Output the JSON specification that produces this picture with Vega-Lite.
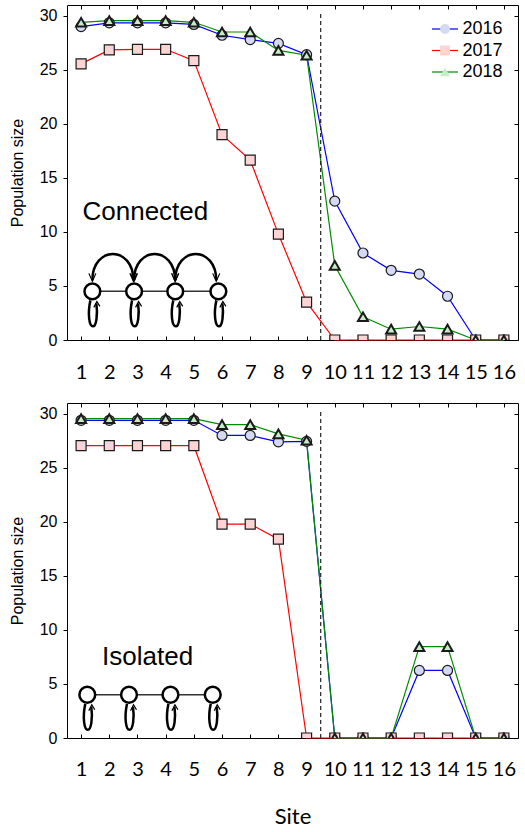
{
  "$schema": "https://vega.github.io/schema/vega-lite/v6.json",
  "padding": {"left": 9, "top": 4, "right": 3, "bottom": 3},
  "spacing": 20,
  "config": {
    "view": {"stroke": null},
    "font": "Liberation Sans",
    "axis": {"grid": false, "domainColor": "black", "tickColor": "black", "labelColor": "black", "titleColor": "black", "domainWidth": 1, "tickWidth": 1}
  },
  "datasets": {
    "pop": [
      {"p":"Connected","year":"2016","yr":"2016","site":1,"n":29.0},{"p":"Connected","year":"2016","yr":"2016","site":2,"n":29.35},{"p":"Connected","year":"2016","yr":"2016","site":3,"n":29.35},{"p":"Connected","year":"2016","yr":"2016","site":4,"n":29.35},{"p":"Connected","year":"2016","yr":"2016","site":5,"n":29.2},{"p":"Connected","year":"2016","yr":"2016","site":6,"n":28.2},{"p":"Connected","year":"2016","yr":"2016","site":7,"n":27.8},{"p":"Connected","year":"2016","yr":"2016","site":8,"n":27.45},{"p":"Connected","year":"2016","yr":"2016","site":9,"n":26.4},{"p":"Connected","year":"2016","yr":"2016","site":10,"n":12.85},{"p":"Connected","year":"2016","yr":"2016","site":11,"n":8.05},{"p":"Connected","year":"2016","yr":"2016","site":12,"n":6.45},{"p":"Connected","year":"2016","yr":"2016","site":13,"n":6.1},{"p":"Connected","year":"2016","yr":"2016","site":14,"n":4.05},{"p":"Connected","year":"2016","yr":"2016","site":15,"n":0},{"p":"Connected","year":"2016","yr":"2016","site":16,"n":0},
      {"p":"Connected","year":"2017","yr":"2017","site":1,"n":25.55},{"p":"Connected","year":"2017","yr":"2017","site":2,"n":26.85},{"p":"Connected","year":"2017","yr":"2017","site":3,"n":26.9},{"p":"Connected","year":"2017","yr":"2017","site":4,"n":26.9},{"p":"Connected","year":"2017","yr":"2017","site":5,"n":25.85},{"p":"Connected","year":"2017","yr":"2017","site":6,"n":19.0},{"p":"Connected","year":"2017","yr":"2017","site":7,"n":16.65},{"p":"Connected","year":"2017","yr":"2017","site":8,"n":9.8},{"p":"Connected","year":"2017","yr":"2017","site":9,"n":3.5},{"p":"Connected","year":"2017","yr":"2017","site":10,"n":0},{"p":"Connected","year":"2017","yr":"2017","site":11,"n":0},{"p":"Connected","year":"2017","yr":"2017","site":12,"n":0},{"p":"Connected","year":"2017","yr":"2017","site":13,"n":0},{"p":"Connected","year":"2017","yr":"2017","site":14,"n":0},{"p":"Connected","year":"2017","yr":"2017","site":15,"n":0},{"p":"Connected","year":"2017","yr":"2017","site":16,"n":0},
      {"p":"Connected","year":"2018","yr":"2018","site":1,"n":29.4},{"p":"Connected","year":"2018","yr":"2018","site":2,"n":29.55},{"p":"Connected","year":"2018","yr":"2018","site":3,"n":29.55},{"p":"Connected","year":"2018","yr":"2018","site":4,"n":29.55},{"p":"Connected","year":"2018","yr":"2018","site":5,"n":29.4},{"p":"Connected","year":"2018","yr":"2018","site":6,"n":28.5},{"p":"Connected","year":"2018","yr":"2018","site":7,"n":28.5},{"p":"Connected","year":"2018","yr":"2018","site":8,"n":26.8},{"p":"Connected","year":"2018","yr":"2018","site":9,"n":26.35},{"p":"Connected","year":"2018","yr":"2018","site":10,"n":6.9},{"p":"Connected","year":"2018","yr":"2018","site":11,"n":2.15},{"p":"Connected","year":"2018","yr":"2018","site":12,"n":1.0},{"p":"Connected","year":"2018","yr":"2018","site":13,"n":1.25},{"p":"Connected","year":"2018","yr":"2018","site":14,"n":1.0},{"p":"Connected","year":"2018","yr":"2018","site":15,"n":0},{"p":"Connected","year":"2018","yr":"2018","site":16,"n":0},
      {"p":"Isolated","year":"2016","yr":"2016","site":1,"n":29.4},{"p":"Isolated","year":"2016","yr":"2016","site":2,"n":29.4},{"p":"Isolated","year":"2016","yr":"2016","site":3,"n":29.4},{"p":"Isolated","year":"2016","yr":"2016","site":4,"n":29.4},{"p":"Isolated","year":"2016","yr":"2016","site":5,"n":29.4},{"p":"Isolated","year":"2016","yr":"2016","site":6,"n":28.0},{"p":"Isolated","year":"2016","yr":"2016","site":7,"n":28.0},{"p":"Isolated","year":"2016","yr":"2016","site":8,"n":27.4},{"p":"Isolated","year":"2016","yr":"2016","site":9,"n":27.45},{"p":"Isolated","year":"2016","yr":"2016","site":10,"n":0},{"p":"Isolated","year":"2016","yr":"2016","site":11,"n":0},{"p":"Isolated","year":"2016","yr":"2016","site":12,"n":0},{"p":"Isolated","year":"2016","yr":"2016","site":13,"n":6.25},{"p":"Isolated","year":"2016","yr":"2016","site":14,"n":6.25},{"p":"Isolated","year":"2016","yr":"2016","site":15,"n":0},{"p":"Isolated","year":"2016","yr":"2016","site":16,"n":0},
      {"p":"Isolated","year":"2017","yr":"2017","site":1,"n":27.05},{"p":"Isolated","year":"2017","yr":"2017","site":2,"n":27.05},{"p":"Isolated","year":"2017","yr":"2017","site":3,"n":27.05},{"p":"Isolated","year":"2017","yr":"2017","site":4,"n":27.05},{"p":"Isolated","year":"2017","yr":"2017","site":5,"n":27.05},{"p":"Isolated","year":"2017","yr":"2017","site":6,"n":19.8},{"p":"Isolated","year":"2017","yr":"2017","site":7,"n":19.8},{"p":"Isolated","year":"2017","yr":"2017","site":8,"n":18.4},{"p":"Isolated","year":"2017","yr":"2017","site":9,"n":0},{"p":"Isolated","year":"2017","yr":"2017","site":10,"n":0},{"p":"Isolated","year":"2017","yr":"2017","site":11,"n":0},{"p":"Isolated","year":"2017","yr":"2017","site":12,"n":0},{"p":"Isolated","year":"2017","yr":"2017","site":13,"n":0},{"p":"Isolated","year":"2017","yr":"2017","site":14,"n":0},{"p":"Isolated","year":"2017","yr":"2017","site":15,"n":0},{"p":"Isolated","year":"2017","yr":"2017","site":16,"n":0},
      {"p":"Isolated","year":"2018","yr":"2018","site":1,"n":29.55},{"p":"Isolated","year":"2018","yr":"2018","site":2,"n":29.55},{"p":"Isolated","year":"2018","yr":"2018","site":3,"n":29.55},{"p":"Isolated","year":"2018","yr":"2018","site":4,"n":29.55},{"p":"Isolated","year":"2018","yr":"2018","site":5,"n":29.55},{"p":"Isolated","year":"2018","yr":"2018","site":6,"n":29.0},{"p":"Isolated","year":"2018","yr":"2018","site":7,"n":29.0},{"p":"Isolated","year":"2018","yr":"2018","site":8,"n":28.15},{"p":"Isolated","year":"2018","yr":"2018","site":9,"n":27.55},{"p":"Isolated","year":"2018","yr":"2018","site":10,"n":0},{"p":"Isolated","year":"2018","yr":"2018","site":11,"n":0},{"p":"Isolated","year":"2018","yr":"2018","site":12,"n":0},{"p":"Isolated","year":"2018","yr":"2018","site":13,"n":8.45},{"p":"Isolated","year":"2018","yr":"2018","site":14,"n":8.45},{"p":"Isolated","year":"2018","yr":"2018","site":15,"n":0},{"p":"Isolated","year":"2018","yr":"2018","site":16,"n":0}
    ],
    "nodes": [
      {"p":"Connected","k":1,"x":1.4,"y":4.5},{"p":"Connected","k":2,"x":2.88,"y":4.5},{"p":"Connected","k":3,"x":4.34,"y":4.5},{"p":"Connected","k":4,"x":5.87,"y":4.5},
      {"p":"Isolated","k":1,"x":1.22,"y":4.0},{"p":"Isolated","k":2,"x":2.7,"y":4.0},{"p":"Isolated","k":3,"x":4.17,"y":4.0},{"p":"Isolated","k":4,"x":5.67,"y":4.0}
    ],
    "labels": [
      {"p":"Connected","x":3.28,"y":11.85,"text":"Connected"},
      {"p":"Isolated","x":3.36,"y":7.5,"text":"Isolated"}
    ]
  },
  "vconcat": [
    {
      "width": 451, "height": 335,
      "resolve": {"axis": {"x": "independent", "y": "independent"}},
      "layer": [
        {
          "data": {"name": "pop"},
          "transform": [{"filter": "datum.p === 'Connected'"}],
          "mark": {"type": "line", "strokeWidth": 1.2},
          "encoding": {
            "x": {"field": "site", "type": "quantitative", "scale": {"domain": [0.5, 16.5], "nice": false, "zero": false},
              "axis": {"orient": "bottom", "values": [1,2,3,4,5,6,7,8,9,10,11,12,13,14,15,16], "tickSize": -4, "labelPadding": 26, "labelFont": "Lato", "labelFontSize": 20, "labelOverlap": false, "labelFlush": false, "title": null}},
            "y": {"field": "n", "type": "quantitative", "scale": {"domain": [0, 31], "nice": false, "zero": false},
              "axis": {"orient": "left", "values": [0,5,10,15,20,25,30], "tickSize": 4, "labelPadding": 6, "labelFontSize": 16, "labelFlush": false, "title": "Population size", "titleFontSize": 16, "titleFontWeight": "normal", "titlePadding": 14}},
            "stroke": {"field": "year", "type": "nominal", "scale": {"range": ["#0000ff","#ff0000","#008c00"]},
              "legend": {"orient": "none", "legendX": 369, "legendY": 15, "zindex": 0, "title": null, "symbolType": "M-13,0H13", "symbolSize": 4, "symbolStrokeWidth": 1.2, "labelFontSize": 18, "labelColor": "black", "labelOffset": 8.5, "rowPadding": 3.5, "padding": 0}}
          }
        },
        {
          "data": {"name": "pop"},
          "transform": [{"filter": "datum.p === 'Connected'"}],
          "mark": {"type": "point", "filled": true, "stroke": "#1a1a1a", "size": 100, "opacity": 1, "clip": true},
          "encoding": {
            "x": {"field": "site", "type": "quantitative", "axis": {"orient": "top", "values": [1,2,3,4,5,6,7,8,9,10,11,12,13,14,15,16], "labels": false, "tickSize": -4, "title": null}},
            "y": {"field": "n", "type": "quantitative", "axis": {"orient": "right", "values": [0,5,10,15,20,25,30], "labels": false, "tickSize": -4, "title": null}},
            "shape": {"field": "yr", "type": "nominal", "scale": {"range": ["circle","square","triangle-up"]},
              "legend": {"orient": "none", "legendX": 369, "legendY": 15, "zindex": 2, "title": null, "symbolSize": 100, "symbolStrokeColor": "#1a1a1a", "symbolStrokeWidth": 1.3, "symbolOpacity": 1, "labelFontSize": 18, "labelColor": "transparent", "labelExpr": "' '", "labelOffset": -26, "rowPadding": 3.5, "padding": 0,
                "encode": {"symbols": {"stroke": {"value": "#1a1a1a"}, "strokeWidth": {"value": 1.5}, "opacity": {"value": 1}}}}},
            "fill": {"field": "yr", "type": "nominal", "scale": {"range": ["#d4d9f5","#fdd4d4","#c6eec6"]}},
            "strokeWidth": {"condition": {"test": "datum.yr === '2018'", "value": 2}, "value": 1.2}
          }
        },
        {
          "data": {"values": [{"boundary": 9.5}]},
          "mark": {"type": "rule", "strokeDash": [4, 3], "strokeWidth": 1.2, "color": "#222"},
          "encoding": {"x": {"field": "boundary", "type": "quantitative", "axis": null}, "y": {"datum": 0, "axis": null}, "y2": {"datum": 30.3}}
        },
        {
          "data": {"name": "nodes"},
          "transform": [{"filter": "datum.p === 'Connected'"}],
          "mark": {"type": "rule", "strokeWidth": 1.5, "color": "#333"},
          "encoding": {"x": {"aggregate": "min", "field": "x", "type": "quantitative", "axis": null}, "x2": {"aggregate": "max", "field": "x"}, "y": {"aggregate": "min", "field": "y", "type": "quantitative", "axis": null}}
        },
        {
          "data": {"name": "nodes"},
          "transform": [{"filter": "datum.p === 'Connected'"}],
          "mark": {"type": "point", "shape": "M-2,9 C-5,23 -3,35 0.5,35 C4,35 5.5,23 4,12", "size": 4, "filled": false, "stroke": "black", "strokeWidth": 2.5, "opacity": 1},
          "encoding": {"x": {"field": "x", "type": "quantitative", "axis": null}, "y": {"field": "y", "type": "quantitative", "axis": null}}
        },
        {
          "data": {"name": "nodes"},
          "transform": [{"filter": "datum.p === 'Connected'"}],
          "mark": {"type": "point", "shape": "M1.5,16 L4.5,10 L7.5,15", "size": 4, "filled": false, "stroke": "black", "strokeWidth": 1.2, "opacity": 1},
          "encoding": {"x": {"field": "x", "type": "quantitative", "axis": null}, "y": {"field": "y", "type": "quantitative", "axis": null}}
        },
        {
          "data": {"name": "nodes"},
          "transform": [{"filter": "datum.p === 'Connected' && datum.k < 4"}],
          "mark": {"type": "point", "shape": "M0,-11 C0,-46 41,-46 41,-11", "size": 4, "filled": false, "stroke": "black", "strokeWidth": 2.5, "opacity": 1},
          "encoding": {"x": {"field": "x", "type": "quantitative", "axis": null}, "y": {"field": "y", "type": "quantitative", "axis": null}}
        },
        {
          "data": {"name": "nodes"},
          "transform": [{"filter": "datum.p === 'Connected' && datum.k < 4"}],
          "mark": {"type": "point", "shape": "M-3.5,-18 L0,-10 L3.5,-18 M37.5,-18 L41,-10 L44.5,-18", "size": 4, "filled": false, "stroke": "black", "strokeWidth": 1.2, "opacity": 1},
          "encoding": {"x": {"field": "x", "type": "quantitative", "axis": null}, "y": {"field": "y", "type": "quantitative", "axis": null}}
        },
        {
          "data": {"name": "nodes"},
          "transform": [{"filter": "datum.p === 'Connected'"}],
          "mark": {"type": "point", "shape": "circle", "size": 250, "filled": true, "fill": "white", "stroke": "black", "strokeWidth": 2.5, "opacity": 1},
          "encoding": {"x": {"field": "x", "type": "quantitative", "axis": null}, "y": {"field": "y", "type": "quantitative", "axis": null}}
        },
        {
          "data": {"name": "labels"},
          "transform": [{"filter": "datum.p === 'Connected'"}],
          "mark": {"type": "text", "font": "Liberation Sans", "fontSize": 26, "color": "black"},
          "encoding": {"x": {"field": "x", "type": "quantitative", "axis": null}, "y": {"field": "y", "type": "quantitative", "axis": null}, "text": {"field": "text"}}
        }
      ]
    },
    {
      "width": 451, "height": 335,
      "resolve": {"axis": {"x": "independent", "y": "independent"}},
      "layer": [
        {
          "data": {"name": "pop"},
          "transform": [{"filter": "datum.p === 'Isolated'"}],
          "mark": {"type": "line", "strokeWidth": 1.2},
          "encoding": {
            "x": {"field": "site", "type": "quantitative", "scale": {"domain": [0.5, 16.5], "nice": false, "zero": false},
              "axis": {"orient": "bottom", "values": [1,2,3,4,5,6,7,8,9,10,11,12,13,14,15,16], "tickSize": -4, "labelPadding": 25, "labelFont": "Lato", "labelFontSize": 20, "labelOverlap": false, "labelFlush": false, "title": "Site", "titleFont": "Lato", "titleFontSize": 22, "titleFontWeight": "normal", "titlePadding": 27}},
            "y": {"field": "n", "type": "quantitative", "scale": {"domain": [0, 31], "nice": false, "zero": false},
              "axis": {"orient": "left", "values": [0,5,10,15,20,25,30], "tickSize": 4, "labelPadding": 6, "labelFontSize": 16, "labelFlush": false, "title": "Population size", "titleFontSize": 16, "titleFontWeight": "normal", "titlePadding": 14}},
            "stroke": {"field": "year", "type": "nominal", "scale": {"range": ["#0000ff","#ff0000","#008c00"]},
              "legend": {"orient": "none", "legendX": 369, "legendY": 11, "zindex": 0, "title": null, "symbolType": "M-13,0H13", "symbolSize": 4, "symbolStrokeWidth": 1.2, "labelFontSize": 18, "labelColor": "black", "labelOffset": 8.5, "rowPadding": 4, "padding": 0}}
          }
        },
        {
          "data": {"name": "pop"},
          "transform": [{"filter": "datum.p === 'Isolated'"}],
          "mark": {"type": "point", "filled": true, "stroke": "#1a1a1a", "size": 100, "opacity": 1, "clip": true},
          "encoding": {
            "x": {"field": "site", "type": "quantitative", "axis": {"orient": "top", "values": [1,2,3,4,5,6,7,8,9,10,11,12,13,14,15,16], "labels": false, "tickSize": -4, "title": null}},
            "y": {"field": "n", "type": "quantitative", "axis": {"orient": "right", "values": [0,5,10,15,20,25,30], "labels": false, "tickSize": -4, "title": null}},
            "shape": {"field": "yr", "type": "nominal", "scale": {"range": ["circle","square","triangle-up"]},
              "legend": {"orient": "none", "legendX": 369, "legendY": 11, "zindex": 2, "title": null, "symbolSize": 100, "symbolStrokeColor": "#1a1a1a", "symbolStrokeWidth": 1.3, "symbolOpacity": 1, "labelFontSize": 18, "labelColor": "transparent", "labelExpr": "' '", "labelOffset": -26, "rowPadding": 4, "padding": 0,
                "encode": {"symbols": {"stroke": {"value": "#1a1a1a"}, "strokeWidth": {"value": 1.5}, "opacity": {"value": 1}}}}},
            "fill": {"field": "yr", "type": "nominal", "scale": {"range": ["#d4d9f5","#fdd4d4","#c6eec6"]}},
            "strokeWidth": {"condition": {"test": "datum.yr === '2018'", "value": 2}, "value": 1.2}
          }
        },
        {
          "data": {"values": [{"boundary": 9.5}]},
          "mark": {"type": "rule", "strokeDash": [4, 3], "strokeWidth": 1.2, "color": "#222"},
          "encoding": {"x": {"field": "boundary", "type": "quantitative", "axis": null}, "y": {"datum": 0, "axis": null}, "y2": {"datum": 30.3}}
        },
        {
          "data": {"name": "nodes"},
          "transform": [{"filter": "datum.p === 'Isolated'"}],
          "mark": {"type": "rule", "strokeWidth": 1.5, "color": "#333"},
          "encoding": {"x": {"aggregate": "min", "field": "x", "type": "quantitative", "axis": null}, "x2": {"aggregate": "max", "field": "x"}, "y": {"aggregate": "min", "field": "y", "type": "quantitative", "axis": null}}
        },
        {
          "data": {"name": "nodes"},
          "transform": [{"filter": "datum.p === 'Isolated'"}],
          "mark": {"type": "point", "shape": "M-2,9 C-5,23 -3,35 0.5,35 C4,35 5.5,23 4,12", "size": 4, "filled": false, "stroke": "black", "strokeWidth": 2.5, "opacity": 1},
          "encoding": {"x": {"field": "x", "type": "quantitative", "axis": null}, "y": {"field": "y", "type": "quantitative", "axis": null}}
        },
        {
          "data": {"name": "nodes"},
          "transform": [{"filter": "datum.p === 'Isolated'"}],
          "mark": {"type": "point", "shape": "M1.5,16 L4.5,10 L7.5,15", "size": 4, "filled": false, "stroke": "black", "strokeWidth": 1.2, "opacity": 1},
          "encoding": {"x": {"field": "x", "type": "quantitative", "axis": null}, "y": {"field": "y", "type": "quantitative", "axis": null}}
        },
        {
          "data": {"name": "nodes"},
          "transform": [{"filter": "datum.p === 'Isolated'"}],
          "mark": {"type": "point", "shape": "circle", "size": 250, "filled": true, "fill": "white", "stroke": "black", "strokeWidth": 2.5, "opacity": 1},
          "encoding": {"x": {"field": "x", "type": "quantitative", "axis": null}, "y": {"field": "y", "type": "quantitative", "axis": null}}
        },
        {
          "data": {"name": "labels"},
          "transform": [{"filter": "datum.p === 'Isolated'"}],
          "mark": {"type": "text", "font": "Liberation Sans", "fontSize": 26, "color": "black"},
          "encoding": {"x": {"field": "x", "type": "quantitative", "axis": null}, "y": {"field": "y", "type": "quantitative", "axis": null}, "text": {"field": "text"}}
        }
      ]
    }
  ]
}
